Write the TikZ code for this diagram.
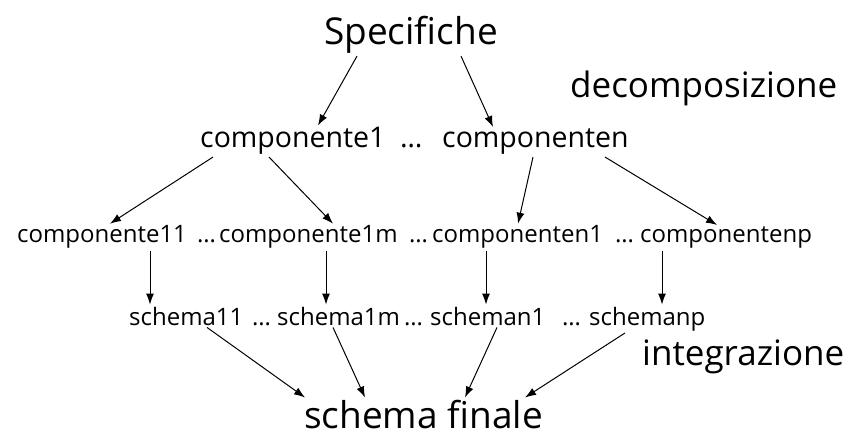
\documentclass[tikz,border=0pt]{standalone}
\usepackage{fontspec}
\setmainfont{Open Sans}
\usetikzlibrary{arrows.meta}

\tikzset{
  word/.style={anchor=base west,inner sep=2pt},
  big/.style={word,font=\fontsize{37}{40}\selectfont},
  mid/.style={word,font=\fontsize{28.5}{32}\selectfont},
  small/.style={word,font=\fontsize{24}{28}\selectfont},
  lnk/.style={->,line width=1pt}
}

\begin{document}
\begin{tikzpicture}[x=1pt,y=-1pt,>={Latex[length=11pt,width=8pt]}]
\useasboundingbox (0,0) rectangle (861,438);

% top level
\node[big] (spec) at (322,45) {Specifiche};
\node[big,font=\fontsize{35}{40}\selectfont] (decomp) at (568,98) {decomposizione};

% first decomposition
\node[mid] (c1) at (198,148) {componente1};
\node[mid] (d1) at (398,148) {\dots};
\node[mid] (cn) at (440,148) {componenten};

% second decomposition
\node[small] (c11) at (15,243) {componente11};
\node[small] (d2) at (195,243) {\dots};
\node[small] (c1m) at (217,243) {componente1m};
\node[small] (d3) at (407,243) {\dots};
\node[small] (cn1) at (430,243) {componenten1};
\node[small] (d4) at (613,243) {\dots};
\node[small] (cnp) at (638,243) {componentenp};

% schemi
\node[small] (s11) at (127,325) {schema11};
\node[small] (d5) at (250,325) {\dots};
\node[small] (s1m) at (275,325) {schema1m};
\node[small] (d6) at (402,325) {\dots};
\node[small] (sn1) at (428,325) {scheman1};
\node[small] (d7) at (560,325) {\dots};
\node[small] (snp) at (587,325) {schemanp};

\node[big,font=\fontsize{35}{40}\selectfont] (integr) at (640,365) {integrazione};
\node[big] (fin) at (302,428) {schema finale};

% decomposizione
\draw[lnk] ([xshift=35]spec.south west) -- ([xshift=120]c1.north west);
\draw[lnk] ([xshift=139]spec.south west) -- ([xshift=53]cn.north west);
\draw[lnk] ([xshift=15]c1.south west) -- ([xshift=95]c11.north west);
\draw[lnk] ([xshift=71]c1.south west) -- ([xshift=116]c1m.north west);
\draw[lnk] ([xshift=93]cn.south west) -- ([xshift=88]cn1.north west);
\draw[lnk] ([xshift=165]cn.south west) -- ([xshift=79]cnp.north west);

% traduzione in schemi
\draw[lnk] ([xshift=135]c11.south west) -- ([xshift=23]s11.north west);
\draw[lnk] ([xshift=109]c1m.south west) -- ([xshift=51]s1m.north west);
\draw[lnk] ([xshift=56]cn1.south west) -- ([xshift=58]sn1.north west);
\draw[lnk] ([xshift=24]cnp.south west) -- ([xshift=75]snp.north west);

% integrazione
\draw[lnk] ([xshift=80]s11.south west) -- ([xshift=3]fin.north west);
\draw[lnk] ([xshift=58]s1m.south west) -- ([xshift=63]fin.north west);
\draw[lnk] ([xshift=69]sn1.south west) -- ([xshift=163]fin.north west);
\draw[lnk] ([xshift=38]snp.south west) -- ([xshift=223]fin.north west);
\end{tikzpicture}
\end{document}
